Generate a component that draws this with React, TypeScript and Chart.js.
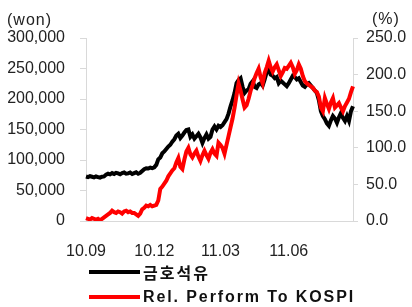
import React, { useEffect, useRef } from 'react';
import { Chart, registerables } from 'chart.js';

Chart.register(...registerables);

// x tick labels shown at quarter starts
const tickLabels: Record<number, string> = { 0: '10.09', 34: '10.12', 67: '11.03', 101: '11.06' };

// 금호석유 share price (won)
const priceWon: number[] = [
  73000, 72000, 73500, 72500, 71500, 73000, 72000, 71000, 72500, 73000,
  76000, 77500, 76500, 78500, 77000, 79000, 78000, 76500, 78500, 79500,
  77500, 78000, 79500, 77000, 78500, 80000, 77500, 79000, 82000, 85000,
  86500, 86000, 87500, 86500, 88000, 92000, 101000, 104000, 111000, 114000,
  118000, 122000, 125000, 130000, 134000, 140000, 143000, 136000, 140000, 145000,
  149000, 150000, 138000, 142000, 135000, 139000, 143000, 137000, 128000, 136000,
  142000, 135000, 138000, 150000, 155000, 150000, 156000, 154000, 157000, 162000,
  167000, 176000, 188000, 198000, 210000, 226000, 231000, 234000, 220000, 210000,
  214000, 216000, 225000, 229000, 220000, 218000, 224000, 226000, 222000, 232000,
  244000, 249000, 240000, 238000, 234000, 236000, 226000, 230000, 227000, 224000,
  221000, 226000, 232000, 238000, 236000, 232000, 234000, 228000, 222000, 220000,
  224000, 226000, 222000, 218000, 214000, 210000, 198000, 180000, 172000, 167000,
  160000, 156000, 165000, 172000, 168000, 161000, 170000, 177000, 169000, 164000,
  172000, 164000, 180000, 188000,
];

// Relative performance to KOSPI (%)
const relPerf: number[] = [
  4, 3, 2, 4, 3, 2, 3, 1, 3, 5,
  7, 9, 11, 14, 12, 11, 13, 12, 10, 13,
  14, 12, 13, 11, 11, 9, 7, 10, 16, 18,
  21, 20, 22, 20, 21, 22, 28, 44, 47, 51,
  55, 61, 65, 69, 72, 80, 86, 74, 71, 84,
  95, 100, 91, 87, 92, 96, 88, 82, 90, 96,
  90, 85, 93, 98, 92, 89, 107, 104, 100, 92,
  104, 116, 128, 140, 155, 172, 188, 178, 166, 155,
  158, 167, 178, 186, 195, 202, 208, 196, 188, 202,
  210, 219, 210, 204, 210, 214, 206, 198, 203, 209,
  208, 212, 216, 210, 201, 206, 214, 208, 198, 191,
  188, 186, 184, 182, 178, 176, 170, 155, 150, 168,
  160, 153, 162, 168, 155, 158, 161, 155, 150, 157,
  162, 167, 176, 184,
];

const labels: string[] = priceWon.map((_, i) => tickLabels[i] ?? '');

const seriesNames = ['금호석유', 'Rel. Perform To KOSPI'];
const seriesColors = ['#000000', '#ff0000'];

const FONT = '"Liberation Sans", Arial, sans-serif';
const TEXT = '#222222';
const AXIS = '#d9d9d9';

const overlayPlugin = {
  id: 'overlayText',
  afterDraw(chart: any) {
    const ctx = chart.ctx as CanvasRenderingContext2D;
    ctx.save();
    ctx.fillStyle = TEXT;
    ctx.font = `16px ${FONT}`;
    ctx.textBaseline = 'middle';
    (ctx as any).letterSpacing = '1px';
    ctx.textAlign = 'left';
    ctx.fillText('(won)', 7, 21);
    ctx.fillText('(%)', 372, 20);

    // legend
    const rows = [272, 297];
    rows.forEach((y, i) => {
      ctx.strokeStyle = seriesColors[i];
      ctx.lineWidth = 4;
      ctx.beginPath();
      ctx.moveTo(89, y);
      ctx.lineTo(140, y);
      ctx.stroke();
      ctx.fillStyle = '#111111';
      if (i === 0) {
        ctx.font = `bold 16px "Noto Sans CJK KR", ${FONT}`;
        (ctx as any).letterSpacing = '2px';
      } else {
        ctx.font = `bold 16px ${FONT}`;
        (ctx as any).letterSpacing = '1.9px';
      }
      ctx.fillText(seriesNames[i], 143, y + 1);
    });
    ctx.restore();
  },
};

export default function App() {
  const canvasRef = useRef<HTMLCanvasElement | null>(null);

  useEffect(() => {
    document.body.style.margin = '0';
    const canvas = canvasRef.current;
    if (!canvas) return;
    const chart = new Chart(canvas, {
      type: 'line',
      data: {
        labels,
        datasets: [
          {
            label: seriesNames[0],
            data: priceWon,
            yAxisID: 'y',
            borderColor: seriesColors[0],
            backgroundColor: seriesColors[0],
            borderWidth: 4,
            pointRadius: 0,
            tension: 0,
            order: 2,
          },
          {
            label: seriesNames[1],
            data: relPerf,
            yAxisID: 'y1',
            borderColor: seriesColors[1],
            backgroundColor: seriesColors[1],
            borderWidth: 4,
            pointRadius: 0,
            tension: 0,
            order: 1,
          },
        ],
      },
      options: {
        responsive: false,
        animation: false,
        events: [],
        layout: { padding: { top: 38, left: 0, right: 0, bottom: 0 } },
        plugins: { legend: { display: false }, tooltip: { enabled: false } },
        scales: {
          x: {
            type: 'category',
            offset: false,
            grid: { display: false },
            border: { display: true, color: AXIS, width: 1 },
            ticks: {
              autoSkip: false,
              maxRotation: 0,
              padding: 13,
              color: TEXT,
              font: { family: FONT, size: 16 },
              callback: (_v: any, i: number) => labels[i],
            },
            afterFit: (s: any) => { s.height = 86; },
          },
          y: {
            position: 'left',
            min: 0,
            max: 300000,
            grid: { display: true, drawOnChartArea: false, drawTicks: true, tickLength: 6, color: AXIS },
            border: { display: true, color: AXIS, width: 1 },
            ticks: {
              stepSize: 50000,
              padding: 15,
              color: TEXT,
              font: { family: FONT, size: 16 },
              callback: (v: any) => Number(v).toLocaleString('en-US'),
            },
            afterFit: (s: any) => { s.width = 86; },
          },
          y1: {
            position: 'right',
            min: 0,
            max: 250,
            grid: { display: true, drawOnChartArea: false, drawTicks: true, tickLength: 5, color: AXIS },
            border: { display: true, color: AXIS, width: 1 },
            ticks: {
              stepSize: 50,
              padding: 8,
              color: TEXT,
              font: { family: FONT, size: 16 },
              callback: (v: any) => Number(v).toFixed(1),
            },
            afterFit: (s: any) => { s.width = 59; },
          },
        },
      },
      plugins: [overlayPlugin],
    });
    return () => chart.destroy();
  }, []);

  return (
    <div style={{ position: 'fixed', left: 0, top: 0, width: 412, height: 307, background: '#fff' }}>
      <canvas ref={canvasRef} width={412} height={307} />
    </div>
  );
}
